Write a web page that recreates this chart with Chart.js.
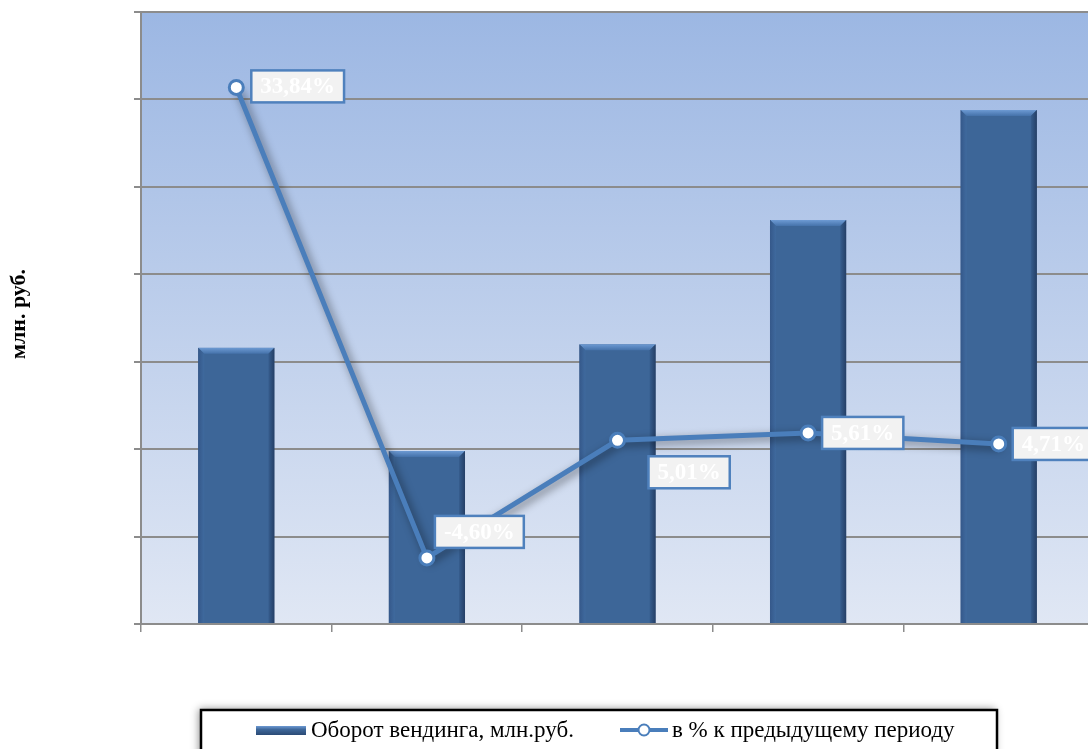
<!DOCTYPE html>
<html>
<head>
<meta charset="utf-8">
<script src="https://cdn.jsdelivr.net/npm/chart.js@4.4.1/dist/chart.umd.min.js"></script>
<style>
  html, body { margin: 0; padding: 0; background: #ffffff; overflow: hidden; }
  #wrap { width: 1088px; height: 749px; overflow: hidden; position: relative; }
  #chart { display: block; }
</style>
</head>
<body>
<div id="wrap"><canvas id="chart" width="1104" height="749"></canvas></div>
<script>
// Chart data
const categories = ["2009", "2010", "2011", "2012", "2013"];
const turnover = [31.6, 19.8, 32.0, 46.2, 58.8];       // bars, млн. руб.
const growthPct = [33.84, -4.60, 5.01, 5.61, 4.71];    // line, %
const turnoverAxisTicks = [0, 10, 20, 30, 40, 50, 60, 70];
const growthAxisRange = [-10, 40];

const SERIF = "'Liberation Serif', 'DejaVu Serif', serif";
const LINE_BLUE = "#4a7ebb";
const BAR_BLUE = "#3d6698";

// label box placement relative to its point (dx to box left, dy to box centre)
const labelOffsets = [
    { dx: 15, dy: -1 },
    { dx: 8, dy: -26 },
    { dx: 31, dy: 32 },
    { dx: 14, dy: 0 },
    { dx: 14, dy: 0 }
];

function fmtPct(v) {
    return v.toFixed(2).replace(".", ",") + "%";
}

// plot area gradient background
const plotBackground = {
    id: "plotBackground",
    beforeDraw(chart) {
        const { ctx, chartArea: a } = chart;
        const g = ctx.createLinearGradient(0, a.top, 0, a.bottom);
        g.addColorStop(0, "#9cb7e3");
        g.addColorStop(1, "#e0e7f4");
        ctx.save();
        ctx.fillStyle = g;
        ctx.fillRect(a.left, a.top, a.right - a.left, a.bottom - a.top);
        ctx.restore();
    }
};

// bevel edges on one bar
function drawBevel(ctx, bar) {
    const l = bar.x - bar.width / 2, r = bar.x + bar.width / 2;
    const t = bar.y, b = bar.base, e = 6;
    ctx.save();
    // top bevel
    const gt = ctx.createLinearGradient(0, t, 0, t + e);
    gt.addColorStop(0, "#6d9ad3");
    gt.addColorStop(1, "#4572aa");
    ctx.fillStyle = gt;
    ctx.beginPath();
    ctx.moveTo(l, t); ctx.lineTo(r, t); ctx.lineTo(r - e, t + e); ctx.lineTo(l + e, t + e);
    ctx.closePath(); ctx.fill();
    // right bevel
    const gr = ctx.createLinearGradient(r - e, 0, r, 0);
    gr.addColorStop(0, "#365d8e");
    gr.addColorStop(1, "#253f66");
    ctx.fillStyle = gr;
    ctx.beginPath();
    ctx.moveTo(r, t); ctx.lineTo(r, b); ctx.lineTo(r - e, b); ctx.lineTo(r - e, t + e);
    ctx.closePath(); ctx.fill();
    // left bevel
    const gl = ctx.createLinearGradient(l, 0, l + e, 0);
    gl.addColorStop(0, "#35588a");
    gl.addColorStop(1, "#3f6a9e");
    ctx.fillStyle = gl;
    ctx.beginPath();
    ctx.moveTo(l, t); ctx.lineTo(l + e, t + e); ctx.lineTo(l + e, b); ctx.lineTo(l, b);
    ctx.closePath(); ctx.fill();
    ctx.restore();
}

// bevels on the bars + soft shadow under the line (not the points)
const bevelAndShadow = {
    id: "bevelAndShadow",
    beforeDatasetDraw(chart, args) {
        if (args.index !== 1) return;
        const ctx = chart.ctx;
        const pts = args.meta.data;
        ctx.save();
        ctx.filter = "blur(4px)";
        ctx.strokeStyle = "rgba(0,0,0,0.4)";
        ctx.lineWidth = 6;
        ctx.lineJoin = "round";
        ctx.beginPath();
        pts.forEach((p, i) => {
            if (i === 0) ctx.moveTo(p.x + 3, p.y + 3);
            else ctx.lineTo(p.x + 3, p.y + 3);
        });
        ctx.stroke();
        ctx.restore();
    },
    afterDatasetDraw(chart, args) {
        if (args.index === 0) {
            args.meta.data.forEach((bar) => drawBevel(chart.ctx, bar));
        }
    }
};

// value labels in boxes next to line points
const pctLabels = {
    id: "pctLabels",
    afterDatasetsDraw(chart) {
        const { ctx } = chart;
        const meta = chart.getDatasetMeta(1);
        ctx.save();
        ctx.font = "bold 23px " + SERIF;
        ctx.textBaseline = "middle";
        meta.data.forEach((pt, i) => {
            const txt = fmtPct(growthPct[i]);
            const off = labelOffsets[i];
            const w = ctx.measureText(txt).width + 18;
            const h = 32;
            const x = pt.x + off.dx, y = pt.y + off.dy - h / 2;
            ctx.fillStyle = "#f2f2f2";
            ctx.fillRect(x, y, w, h);
            ctx.lineWidth = 2.5;
            ctx.strokeStyle = "#4f81bd";
            ctx.strokeRect(x, y, w, h);
            ctx.fillStyle = "#ffffff";
            ctx.fillText(txt, x + 9, y + h / 2 + 1);
        });
        ctx.restore();
    }
};

// y axis title and boxed legend at the bottom
const titleAndLegend = {
    id: "titleAndLegend",
    afterDraw(chart) {
        const { ctx, chartArea: a } = chart;
        ctx.save();
        // axis title
        ctx.translate(19, (a.top + a.bottom) / 2 - 4);
        ctx.rotate(-Math.PI / 2);
        ctx.font = "bold 22px " + SERIF;
        ctx.fillStyle = "#000000";
        ctx.textAlign = "center";
        ctx.textBaseline = "middle";
        ctx.fillText("млн. руб.", 0, 0);
        ctx.restore();

        // legend box
        ctx.save();
        ctx.shadowColor = "rgba(0,0,0,0.45)";
        ctx.shadowBlur = 8;
        ctx.shadowOffsetX = -2;
        ctx.shadowOffsetY = -1;
        ctx.fillStyle = "#ffffff";
        ctx.fillRect(201, 710, 796, 60);
        ctx.restore();
        ctx.save();
        ctx.lineWidth = 2.5;
        ctx.strokeStyle = "#000000";
        ctx.strokeRect(201, 710, 796, 60);

        const ds = chart.data.datasets;
        // bar swatch
        const gs = ctx.createLinearGradient(0, 726, 0, 735);
        gs.addColorStop(0, "#6d9ad3");
        gs.addColorStop(0.4, BAR_BLUE);
        gs.addColorStop(1, "#2b4a75");
        ctx.fillStyle = gs;
        ctx.fillRect(256, 726, 50, 9);
        ctx.font = "23px " + SERIF;
        ctx.fillStyle = "#000000";
        ctx.textBaseline = "middle";
        ctx.fillText(ds[0].label, 311, 731);
        // line swatch
        ctx.strokeStyle = LINE_BLUE;
        ctx.lineWidth = 4;
        ctx.beginPath();
        ctx.moveTo(620, 730); ctx.lineTo(668, 730);
        ctx.stroke();
        ctx.beginPath();
        ctx.arc(644, 730, 5.5, 0, Math.PI * 2);
        ctx.fillStyle = "#ffffff";
        ctx.fill();
        ctx.lineWidth = 2;
        ctx.stroke();
        ctx.fillStyle = "#000000";
        ctx.fillText(ds[1].label, 672, 731);
        ctx.restore();
    }
};

document.addEventListener("DOMContentLoaded", function () {
    const ctx = document.getElementById("chart").getContext("2d");
    new Chart(ctx, {
        data: {
            labels: categories,
            datasets: [
                {
                    type: "bar",
                    label: "Оборот вендинга, млн.руб.",
                    data: turnover,
                    yAxisID: "y",
                    backgroundColor: BAR_BLUE,
                    borderColor: "#2c4b76",
                    borderWidth: 1,
                    barPercentage: 0.4,
                    categoryPercentage: 1.0,
                    order: 2
                },
                {
                    type: "line",
                    label: "в % к предыдущему периоду",
                    data: growthPct,
                    yAxisID: "y1",
                    borderColor: LINE_BLUE,
                    borderWidth: 5,
                    tension: 0,
                    pointRadius: 7,
                    pointBorderWidth: 3,
                    pointBackgroundColor: "#ffffff",
                    pointBorderColor: LINE_BLUE,
                    order: 1
                }
            ]
        },
        options: {
            responsive: false,
            animation: false,
            devicePixelRatio: 1,
            layout: { padding: { left: 141, top: 12, right: 0, bottom: 125 } },
            plugins: {
                legend: { display: false },
                tooltip: { enabled: false }
            },
            scales: {
                x: {
                    offset: true,
                    ticks: { display: false },
                    grid: { drawOnChartArea: false, drawTicks: true, tickLength: 8, color: "#8c8c8c", lineWidth: 1.5, offset: true },
                    border: { color: "#8c8c8c", width: 2 },
                    afterFit(scale) { scale.height = 0; }
                },
                y: {
                    min: turnoverAxisTicks[0],
                    max: turnoverAxisTicks[turnoverAxisTicks.length - 1],
                    afterBuildTicks(scale) { scale.ticks = turnoverAxisTicks.map((v) => ({ value: v })); },
                    ticks: { display: false },
                    grid: { color: "#8c8c8c", lineWidth: 2, tickLength: 7 },
                    border: { color: "#8c8c8c", width: 2 },
                    afterFit(scale) { scale.width = 0; }
                },
                y1: {
                    display: false,
                    position: "right",
                    min: growthAxisRange[0],
                    max: growthAxisRange[1]
                }
            }
        },
        plugins: [plotBackground, bevelAndShadow, pctLabels, titleAndLegend]
    });
});
</script>
</body>
</html>
